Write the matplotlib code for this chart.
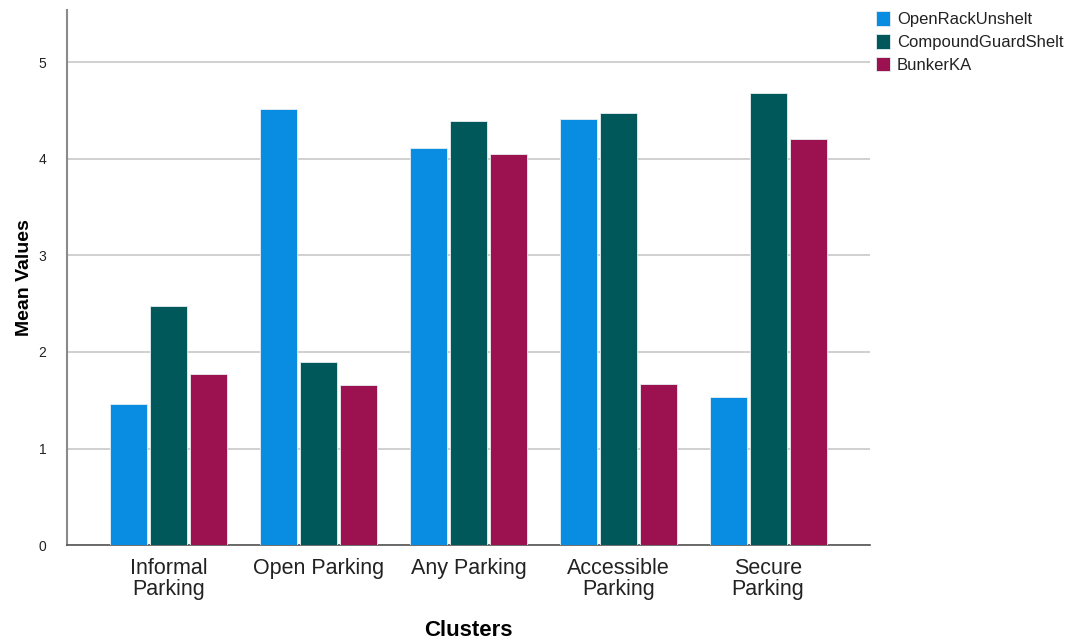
import matplotlib
matplotlib.use("Agg")
import matplotlib.pyplot as plt
import numpy as np

plt.rcParams['font.family'] = ['Liberation Sans', 'DejaVu Sans']

clusters = ["Informal\nParking", "Open Parking", "Any Parking", "Accessible\nParking", "Secure\nParking"]
series_names = ["OpenRackUnshelt", "CompoundGuardShelt", "BunkerKA"]
open_rack = [1.46, 4.52, 4.11, 4.41, 1.53]
compound_guard = [2.48, 1.90, 4.39, 4.48, 4.68]
bunker = [1.77, 1.66, 4.05, 1.67, 4.21]
colors = ["#098de2", "#00585a", "#9c1150"]
yticks = [0, 1, 2, 3, 4, 5]

fig = plt.figure(figsize=(10.72, 6.42), dpi=100)
ax = fig.add_axes([0.0625, 0.151, 0.749, 0.833])

x = np.arange(len(clusters))
width = 0.247
step = 0.267
for i, (vals, name, col) in enumerate(zip([open_rack, compound_guard, bunker], series_names, colors)):
    ax.bar(x + (i - 1) * step, vals, width, color=col, edgecolor="#e8eef0",
           linewidth=0.6, label=name, zorder=3)

ax.set_xlim(-0.68, 4.68)
ax.set_ylim(0, 5.54)
ax.set_yticks(yticks)
ax.set_yticklabels([str(t) for t in yticks], fontsize=10, color="#222222")
ax.set_xticks(x)
ax.set_xticklabels(clusters, fontsize=15.5, color="#222222", linespacing=1.05)
ax.tick_params(axis="both", length=0)
ax.tick_params(axis="x", pad=9)
ax.tick_params(axis="y", pad=15)
ax.yaxis.grid(True, color="#c8c8c8", linewidth=1.2, zorder=0)
ax.set_axisbelow(True)

for s in ["top", "right"]:
    ax.spines[s].set_visible(False)
ax.spines["left"].set_color("#8a8a8a")
ax.spines["left"].set_linewidth(1.5)
ax.spines["bottom"].set_color("#555555")
ax.spines["bottom"].set_linewidth(1.2)

ax.set_ylabel("Mean Values", fontsize=14, fontweight="bold", labelpad=4)
ax.set_xlabel("Clusters", fontsize=16, fontweight="bold", labelpad=14)

leg = ax.legend(loc="upper left", bbox_to_anchor=(0.993, 1.02), frameon=False,
                fontsize=12, handlelength=0.85, handleheight=0.95,
                handletextpad=0.4, labelspacing=0.42, borderaxespad=0.3)
for t in leg.get_texts():
    t.set_color("#222222")

fig.savefig("out.png", dpi=100)
